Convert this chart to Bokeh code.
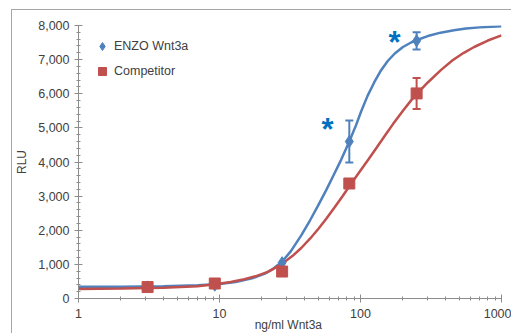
from bokeh.plotting import figure
from bokeh.models import (Range1d, FixedTicker, NumeralTickFormatter, Legend, LegendItem,
                          Whisker, TeeHead, ColumnDataSource)
from bokeh.core.properties import value
from bokeh.embed import file_html
from bokeh.resources import INLINE

# ---- data ----
conc = [3.09, 9.26, 27.8, 83.3, 250]
enzo = [340, 390, 1050, 4600, 7550]
enzo_err = [0, 0, 0, 615, 250]
comp = [335, 440, 790, 3370, 6010]
comp_err = [0, 0, 0, 0, 455]

enzo_fit_x = [1, 2, 4, 7, 10, 13, 17, 21, 24, 27.5, 32, 38, 44, 50, 57, 64, 73, 83.3, 93,
              101, 112, 125, 140, 156, 175, 200, 230, 257, 300, 370, 460, 560, 700, 850, 1000]
enzo_fit_y = [345, 347, 358, 385, 425, 480, 590, 730, 870, 1060, 1380, 1850, 2300, 2720,
              3170, 3590, 4070, 4600, 5080, 5480, 5930, 6330, 6690, 6960, 7180, 7370, 7510,
              7590, 7690, 7790, 7860, 7910, 7945, 7965, 7975]

comp_fit_x = [1, 2, 4, 7, 9.3, 12, 15, 18, 22, 27.5, 33, 38, 44, 50, 57, 65, 75, 86, 100,
              114, 130, 150, 170, 200, 230, 257, 300, 373, 450, 540, 640, 800, 1000]
comp_fit_y = [280, 292, 318, 362, 415, 485, 565, 650, 780, 1000, 1250, 1480, 1760, 2030,
              2330, 2650, 3010, 3370, 3750, 4080, 4420, 4790, 5110, 5500, 5820, 6040, 6330,
              6700, 6980, 7200, 7370, 7560, 7710]

star_x = [58.4, 174]
star_y = [5075, 7620]

x_ticks = [1, 10, 100, 1000]
x_minor = [2, 3, 4, 5, 6, 7, 8, 9, 20, 30, 40, 50, 60, 70, 80, 90,
           200, 300, 400, 500, 600, 700, 800, 900]
y_ticks = [0, 1000, 2000, 3000, 4000, 5000, 6000, 7000, 8000]
y_minor = list(range(0, 8001, 200))

BLUE = "#4F81BD"
RED = "#C0504D"
STAR = "#0070C0"
TXT = "#404040"
AXC = "#8C8C8C"
FONT = "Liberation Sans"

p = figure(width=500, height=324, x_axis_type="log", output_backend="svg",
           toolbar_location=None, x_range=Range1d(1, 1000), y_range=Range1d(0, 8000),
           min_border_left=65, min_border_right=11, min_border_top=15, min_border_bottom=35)
p.xgrid.visible = False
p.ygrid.visible = False
p.outline_line_color = None
p.styles = {"margin-left": "11px", "margin-top": "9px",
            "border-left": "1px solid #A6A6A6", "border-top": "1px solid #A6A6A6"}

# curves
p.line(enzo_fit_x, enzo_fit_y, line_color=BLUE, line_width=2.5)
p.line(comp_fit_x, comp_fit_y, line_color=RED, line_width=2.5)

# error bars
def whisk(xs, ys, es, color):
    idx = [i for i, e in enumerate(es) if e > 0]
    src = ColumnDataSource(dict(x=[xs[i] for i in idx],
                                up=[ys[i] + es[i] for i in idx],
                                lo=[ys[i] - es[i] for i in idx]))
    w = Whisker(source=src, base="x", upper="up", lower="lo", line_color=color, line_width=2,
                upper_head=TeeHead(size=8, line_color=color, line_width=2),
                lower_head=TeeHead(size=8, line_color=color, line_width=2))
    p.add_layout(w)

whisk(conc, enzo, enzo_err, BLUE)
whisk(conc, comp, comp_err, RED)

r_enzo = p.scatter(conc, enzo, marker="diamond", size=12, fill_color=BLUE, line_color=BLUE)
r_comp = p.scatter(conc, comp, marker="square", size=11, fill_color=RED, line_color=RED)

# significance stars
p.text(star_x, star_y, text=["*"] * len(star_x), text_color=STAR, text_font=value(FONT),
       text_font_style="bold", text_font_size="31px", text_align="center",
       text_baseline="alphabetic", y_offset=4)

# axes
p.xaxis.ticker = FixedTicker(ticks=x_ticks, minor_ticks=x_minor)
p.xaxis.formatter = NumeralTickFormatter(format="0")
p.yaxis.ticker = FixedTicker(ticks=y_ticks, minor_ticks=y_minor)
p.yaxis.formatter = NumeralTickFormatter(format="0,0")
for ax in (p.xaxis, p.yaxis):
    ax.axis_line_color = AXC
    ax.major_tick_line_color = AXC
    ax.minor_tick_line_color = AXC
    ax.major_tick_in = 4
    ax.major_tick_out = 4
    ax.minor_tick_in = 2
    ax.minor_tick_out = 2
    ax.major_label_text_font = FONT
    ax.major_label_text_font_size = "12.5px"
    ax.major_label_text_color = TXT
    ax.axis_label_text_font = FONT
    ax.axis_label_text_font_size = "12px"
    ax.axis_label_text_font_style = "normal"
    ax.axis_label_text_color = TXT
p.xaxis.major_label_standoff = 6
p.yaxis.major_label_standoff = 5
p.yaxis.axis_label = "RLU"
p.yaxis.axis_label_standoff = 6
p.xaxis.axis_label = "ng/ml  Wnt3a"
p.xaxis.axis_label_standoff = -3

legend = Legend(items=[LegendItem(label="ENZO Wnt3a", renderers=[r_enzo]),
                       LegendItem(label="Competitor", renderers=[r_comp])],
                location=(14, 217), padding=2, spacing=5, glyph_width=20, glyph_height=20,
                label_height=20, label_standoff=2, border_line_color=None,
                background_fill_alpha=0, label_text_font=FONT,
                label_text_font_size="12.5px", label_text_color=TXT)
p.add_layout(legend)

open("out.html", "w").write(file_html(p, INLINE))
